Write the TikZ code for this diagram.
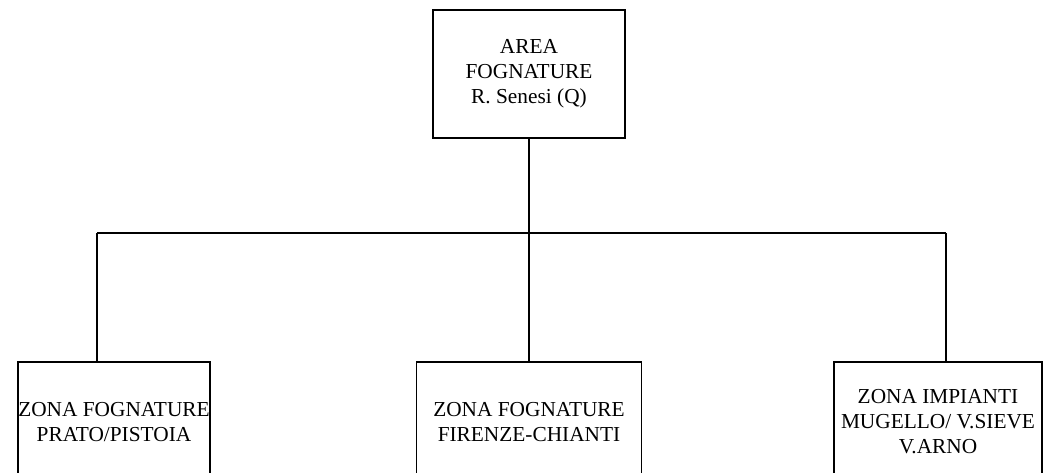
\documentclass[tikz,border=0pt]{standalone}
\usepackage{fontspec}
\setmainfont{Liberation Serif}
\usetikzlibrary{positioning,calc}
\tikzstyle{unit}=[draw,line width=1.2pt,align=center,inner sep=0pt,minimum height=90pt,font=\fontsize{16}{18.75}\selectfont]
\tikzstyle{link}=[draw,line width=1.2pt]

\begin{document}
\begin{tikzpicture}[x=0.75pt,y=-0.75pt]
    \useasboundingbox (0,0) rectangle (1044,472);
    \clip (0,0) rectangle (1044,472);

    \node[unit, anchor=north, minimum width=144pt, minimum height=96pt] (area) at (529,9) {AREA\\FOGNATURE\\R. Senesi (Q)};

    \node[unit, anchor=north, minimum width=144pt] (prato) at (114,361) {ZONA FOGNATURE\\PRATO/PISTOIA};
    \node[unit, anchor=north, minimum width=168.75pt] (firenze) at (529,361) {ZONA FOGNATURE\\FIRENZE-CHIANTI};
    \node[unit, anchor=north, minimum width=156pt] (mugello) at (938,361) {ZONA IMPIANTI\\MUGELLO/ V.SIEVE\\V.ARNO};

    \coordinate (jl) at (97,233);
    \coordinate (jr) at (946,233);

    \path[link] (area.south) -- (firenze.north);
    \path[link] (jl) -- (jr);
    \path[link] (jl) -- (jl |- prato.north);
    \path[link] (jr) -- (jr |- mugello.north);

\end{tikzpicture}
\end{document}
